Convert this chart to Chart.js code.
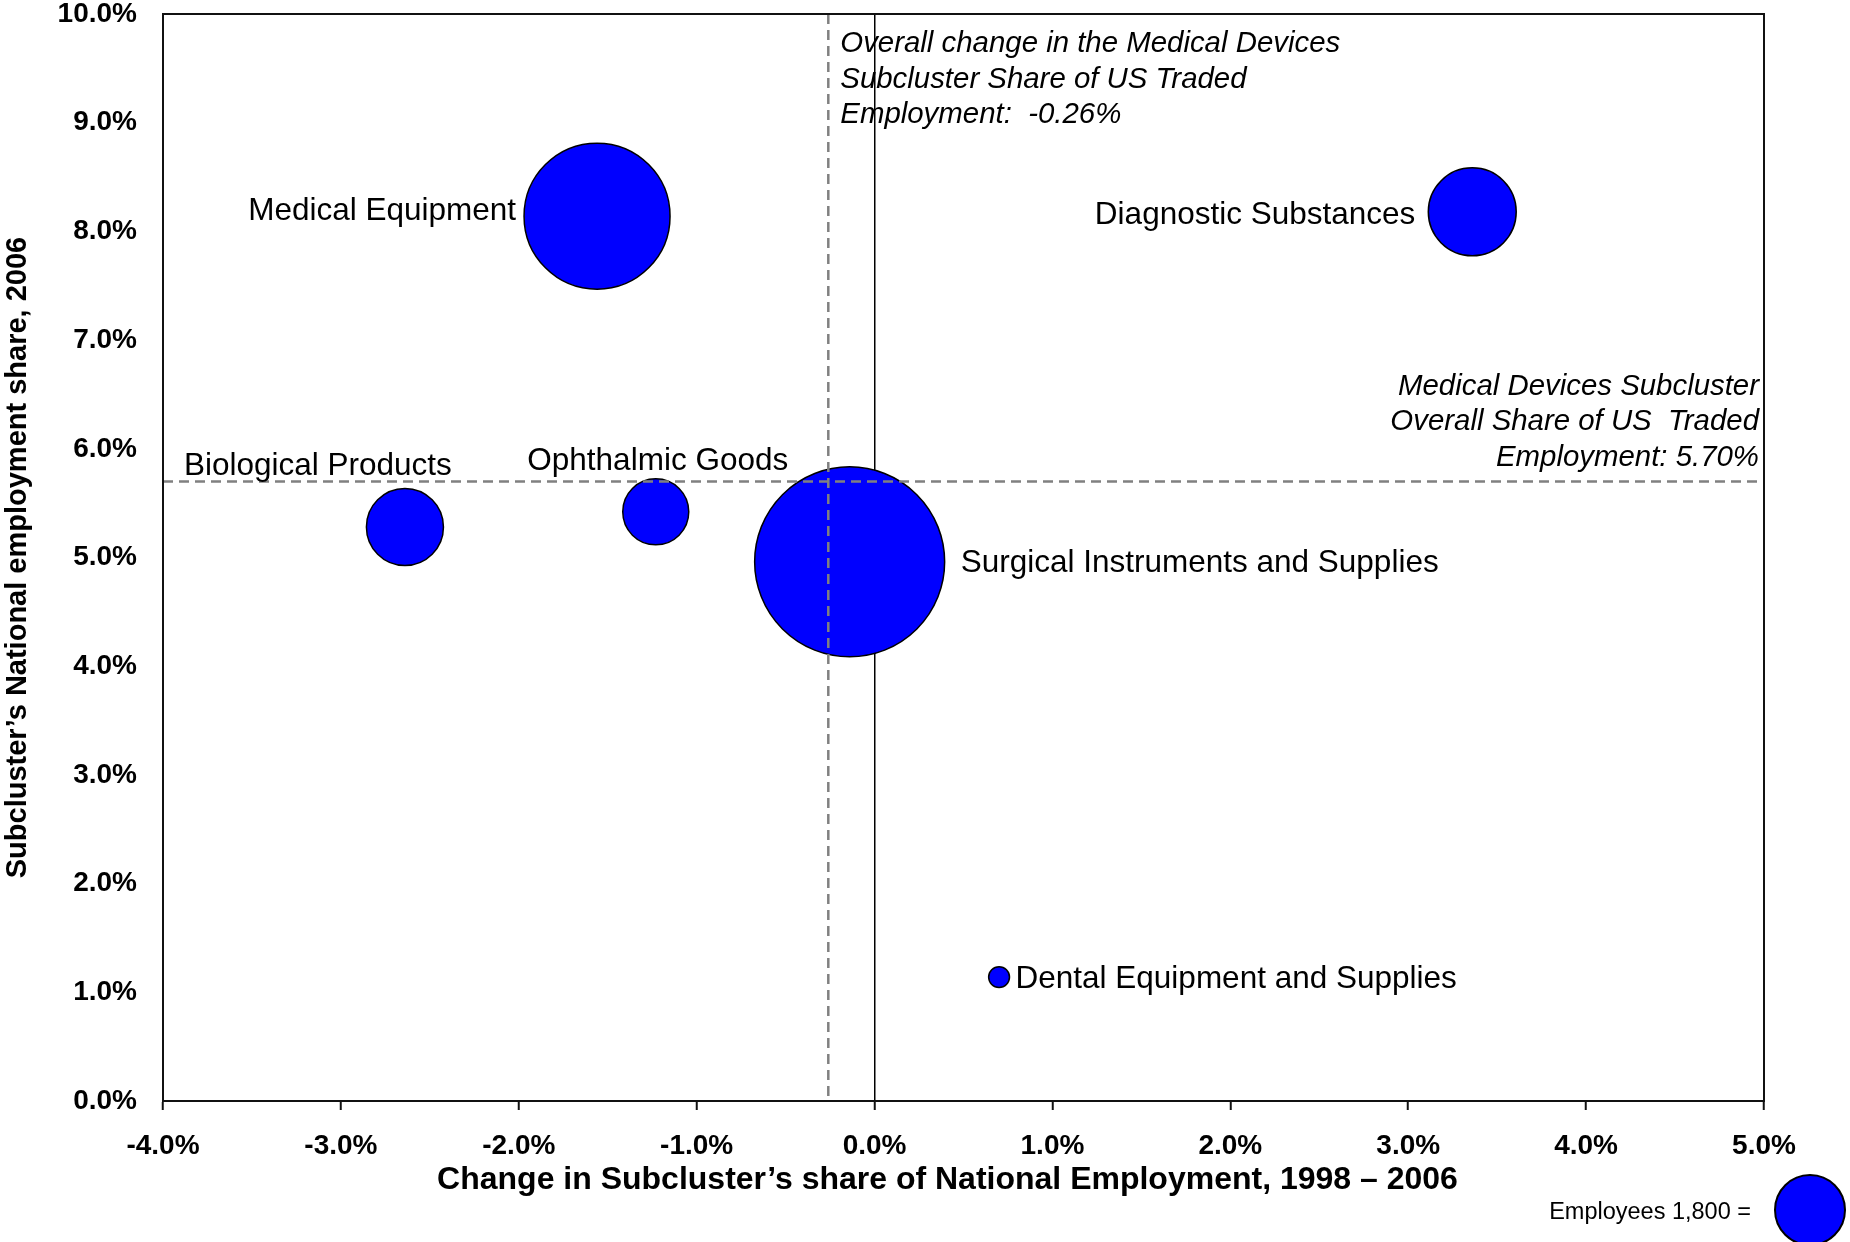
<!DOCTYPE html>
<html><head><meta charset="utf-8">
<script src="https://cdn.jsdelivr.net/npm/chart.js@4.4.1/dist/chart.umd.min.js"></script>
<style>html,body{margin:0;padding:0;background:#fff}#wrap{width:1850px;height:1242px;position:relative}</style>
</head><body><div id="wrap"><canvas id="c"></canvas></div>
<script>
// ---- data ----
const subclusters = ["Medical Equipment", "Diagnostic Substances", "Biological Products", "Ophthalmic Goods", "Surgical Instruments and Supplies", "Dental Equipment and Supplies"];
const shareChange = [-1.56, 3.36, -2.64, -1.23, -0.14, 0.70];   // x, %
const share2006   = [8.14, 8.18, 5.28, 5.42, 4.96, 1.14];       // y, %
const employees   = [7830, 2840, 2180, 1600, 13260, 160];       // bubble size
const xTicks = [-4, -3, -2, -1, 0, 1, 2, 3, 4, 5];
const yTicks = [0, 1, 2, 3, 4, 5, 6, 7, 8, 9, 10];
const overallChange = -0.26;
const overallShare = 5.70;
const legendEmployees = 1800;
const legendText = "Employees 1,800 =";
const annotationChange = ["Overall change in the Medical Devices", "Subcluster Share of US Traded", "Employment:  -0.26%"];
const annotationShare = ["Medical Devices Subcluster", "Overall Share of US  Traded", "Employment: 5.70%"];
const xTitle = "Change in Subcluster\u2019s share of National Employment, 1998 \u2013 2006\u2002\u2002";
const yTitle = "Subcluster\u2019s National employment share, 2006";

// ---- styling ----
const FONT = '"Liberation Sans", Arial, sans-serif';
const refRadius = 35; // px radius of the 1,800-employee key bubble
function bubbleRadius(e) { return refRadius * Math.sqrt(e / legendEmployees); }
const labelPlacement = [
  {align: 'right', dx: -8, dy: -5},
  {align: 'right', dx: -13, dy: 3},
  {align: 'center', dx: -87, dy: -60.5},
  {align: 'center', dx: 2, dy: -50.7},
  {align: 'left', dx: 16, dy: 1.5},
  {align: 'left', dx: 6, dy: 2}
];

const points = subclusters.map((n, i) => ({x: shareChange[i], y: share2006[i], r: bubbleRadius(employees[i])}));

const overlay = {
  id: 'overlay',
  afterDatasetsDraw(chart) {
    const {ctx, chartArea: a, scales: {x, y}} = chart;
    ctx.save();
    // dashed reference lines
    ctx.strokeStyle = '#808080';
    ctx.lineWidth = 2.5;
    ctx.setLineDash([10, 6]);
    const vx = x.getPixelForValue(overallChange);
    ctx.beginPath(); ctx.moveTo(vx, a.top); ctx.lineTo(vx, a.bottom); ctx.stroke();
    const hy = y.getPixelForValue(overallShare);
    ctx.beginPath(); ctx.moveTo(a.left, hy); ctx.lineTo(a.right, hy); ctx.stroke();
    ctx.setLineDash([]);

    // bubble labels
    const meta = chart.getDatasetMeta(0);
    ctx.fillStyle = '#000';
    ctx.font = '31.5px ' + FONT;
    ctx.textBaseline = 'middle';
    meta.data.forEach((el, i) => {
      const p = labelPlacement[i];
      const r = el.options.radius;
      let tx = el.x + p.dx;
      if (p.align === 'right') tx = el.x - r + p.dx;
      if (p.align === 'left') tx = el.x + r + p.dx;
      ctx.textAlign = p.align;
      ctx.fillText(subclusters[i], tx, el.y + p.dy);
    });

    // annotations
    ctx.font = 'italic 29.4px ' + FONT;
    ctx.textAlign = 'left';
    annotationChange.forEach((t, i) => ctx.fillText(t, vx + 12, a.top + 30 + i * 35.4));
    ctx.textAlign = 'right';
    annotationShare.forEach((t, i) => ctx.fillText(t, a.right - 5, hy - 24 - (annotationShare.length - 1 - i) * 35.4));

    // frame
    ctx.strokeStyle = '#111';
    ctx.lineWidth = 2;
    ctx.strokeRect(a.left, a.top, a.right - a.left, a.bottom - a.top);

    // size key
    const kr = bubbleRadius(legendEmployees);
    const kx = 1810, ky = 1210;
    ctx.beginPath(); ctx.arc(kx, ky, kr, 0, Math.PI * 2);
    ctx.fillStyle = '#0000FF'; ctx.fill();
    ctx.lineWidth = 2; ctx.strokeStyle = '#000'; ctx.stroke();
    ctx.fillStyle = '#000';
    ctx.font = '23.5px ' + FONT;
    ctx.textAlign = 'right';
    ctx.fillText(legendText, kx - kr - 24, ky + 3);
    ctx.restore();
  }
};

Chart.defaults.font.family = FONT;
Chart.defaults.color = '#000';

new Chart(document.getElementById('c'), {
  type: 'bubble',
  data: {datasets: [{
    data: points,
    backgroundColor: '#0000FF',
    borderColor: '#000',
    borderWidth: 1.5,
    hoverRadius: 0
  }]},
  options: {
    responsive: true,
    maintainAspectRatio: false,
    animation: false,
    events: [],
    layout: {autoPadding: false, padding: {left: 0, top: 14, right: 86, bottom: 0}},
    plugins: {legend: {display: false}, tooltip: {enabled: false}},
    scales: {
      x: {
        type: 'linear', min: xTicks[0], max: xTicks[xTicks.length - 1],
        afterBuildTicks: s => { s.ticks = xTicks.map(v => ({value: v})); },
        afterFit: s => { s.height = 141; s.paddingLeft = 0; s.paddingRight = 0; },
        ticks: {callback: v => v.toFixed(1) + '%', font: {size: 28, weight: 'bold'}, padding: 19, maxRotation: 0, autoSkip: false},
        grid: {
          drawOnChartArea: true, drawTicks: true, tickLength: 9,
          color: c => (c.tick && c.tick.value === 0) ? '#000' : 'rgba(0,0,0,0)',
          lineWidth: 1.5, tickColor: '#111', tickWidth: 2
        },
        border: {display: true, color: '#111', width: 2},
        title: {display: true, text: xTitle, font: {size: 32, weight: 'bold'}, padding: {top: 0, bottom: 43}}
      },
      y: {
        type: 'linear', min: yTicks[0], max: yTicks[yTicks.length - 1],
        afterBuildTicks: s => { s.ticks = yTicks.map(v => ({value: v})); },
        afterFit: s => { s.width = 163; s.paddingTop = 0; s.paddingBottom = 0; },
        ticks: {callback: v => v.toFixed(1) + '%', font: {size: 28, weight: 'bold'}, padding: 26, autoSkip: false},
        grid: {drawOnChartArea: false, drawTicks: false},
        border: {display: true, color: '#111', width: 2},
        title: {display: true, text: yTitle, font: {size: 29, weight: 'bold'}, padding: {top: 1, bottom: 0}}
      }
    }
  },
  plugins: [overlay]
});
</script></body></html>
